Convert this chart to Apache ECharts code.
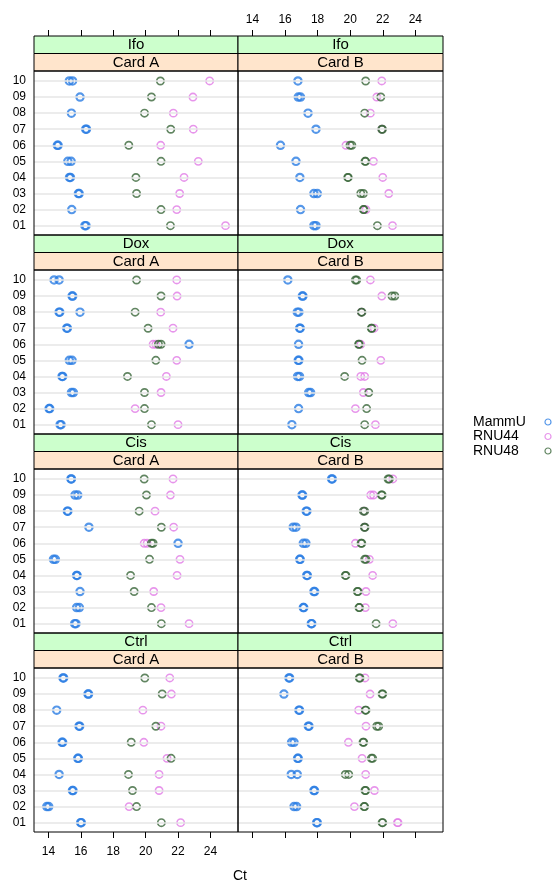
<!DOCTYPE html>
<html><head><meta charset="utf-8">
<script src="https://cdn.jsdelivr.net/npm/echarts@6/dist/echarts.min.js"></script>
<style>html,body{margin:0;padding:0;background:#fff}#c{width:554px;height:883px}</style>
</head><body><div id="c"></div>
<script>
// categories
const samples = ['01','02','03','04','05','06','07','08','09','10'];
const treatments = ['Ifo','Dox','Cis','Ctrl'];
const cards = ['Card A','Card B'];
const genes = ['MammU','RNU44','RNU48'];
const xTicks = [14,16,18,20,22,24];
const axisTitle = 'Ct';

// Ct values, samples 01..10, replicates in inner lists
const ifoA_MammU = [[16.25,16.32],[15.44],[15.85,15.9],[15.3,15.36],[15.2,15.4],[14.55,14.6],[16.3,16.35],[15.42],[15.95],[15.29,15.49]];
const ifoA_RNU44 = [24.93,21.92,22.1,22.37,23.25,20.93,22.94,21.71,22.92,23.95];
const ifoA_RNU48 = [21.53,20.95,19.44,19.4,20.95,18.96,21.55,19.93,20.36,20.91];

const ifoB_MammU = [[17.77,17.9],[16.95],[17.77,17.98],[16.91],[16.67],[15.72],[17.9],[17.41],[16.81,16.95],[16.79]];
const ifoB_RNU44 = [22.6,20.97,22.37,22.0,21.43,19.74,21.95,21.24,21.63,21.94];
const ifoB_RNU48 = [21.67,[20.81,20.85],[20.65,20.81],[19.85,19.88],[20.91,20.95],[19.99,20.1],[21.94,21.98],20.89,21.88,20.95];

const doxA_MammU = [[14.72,14.78],[14.04,14.08],[15.42,15.54],[14.84,14.88],[15.29,15.46],[22.68],[15.13,15.17],[14.66,14.7,15.95],[15.46,15.5],[14.35,14.66]];
const doxA_RNU44 = [22.0,19.35,20.95,21.28,21.92,[20.46,20.63],21.69,20.93,21.94,21.92];
const doxA_RNU48 = [20.36,19.93,19.93,18.88,20.63,[20.79,20.95],20.15,19.35,20.95,19.44];

const doxB_MammU = [[16.42],[16.83],[17.45,17.57],[16.77,16.89],[16.81,16.85],[16.83],[16.9,16.93],[16.75,16.85],[17.06,17.1],[16.17]];
const doxB_RNU44 = [21.55,20.32,20.81,[20.65,20.89],21.88,20.65,21.47,20.69,21.94,21.24];
const doxB_RNU48 = [20.89,21.01,21.14,19.66,20.73,[20.52,20.55],[21.3,21.33],[20.69,20.72],[22.57,22.74],[20.32,20.4]];

const cisA_MammU = [[15.62,15.7],[15.74,15.91],[15.95],[15.74,15.77],[14.31,14.43],[22.0],[16.5],[15.17,15.2],[15.64,15.81],[15.39,15.42]];
const cisA_RNU44 = [22.68,20.95,20.5,21.94,22.12,[19.91,20.09],21.73,20.58,21.53,21.69];
const cisA_RNU48 = [20.97,20.36,19.29,19.07,20.24,[20.36,20.46],20.97,19.6,20.05,19.91];

const cisB_MammU = [[17.61,17.64],[17.12,17.15],[17.77,17.82],[17.33,17.37],[16.9,16.93],[17.12,17.28],[16.5,16.67],[17.3,17.34],[17.04,17.08],[18.86,18.9]];
const cisB_RNU44 = [22.62,20.93,20.97,21.38,21.18,20.32,20.89,20.85,[21.26,21.43],22.62];
const cisB_RNU48 = [21.59,[20.54,20.57],[20.44,20.48],[19.7,19.74],[20.89,20.97],[20.67,20.71],[20.87,20.91],[20.81,20.89],[21.92,21.96],[22.33,22.4]];

const ctrlA_MammU = [[15.99,16.03],[13.9,14.02],[15.48,15.52],[14.66],[15.81,15.85],[14.84,14.88],[15.89,15.93],[14.51],[16.44,16.48],[14.9,14.94]];
const ctrlA_RNU44 = [22.16,18.98,20.83,20.83,21.32,19.89,20.95,19.83,21.59,21.49];
const ctrlA_RNU48 = [20.97,19.44,19.19,18.94,21.57,19.11,20.63,null,21.02,19.95];

const ctrlB_MammU = [[17.94,17.98],[16.55,16.71],[17.77,17.81],[16.38,16.75],[16.77,16.81],[16.4,16.55],[17.43,17.47],[16.85,16.89],[15.93],[16.24,16.28]];
const ctrlB_RNU44 = [[22.9,22.94],20.26,21.49,20.95,20.73,19.89,20.97,20.52,21.22,20.91];
const ctrlB_RNU48 = [[21.96,22.0],[20.85,20.89],[20.91,20.95],[19.7,19.91],[21.3,21.38],[20.79,20.83],[21.63,21.75],[20.93,20.97],[21.96,22.0],[20.56,20.6]];

const panels = [
  [[ifoA_MammU, ifoA_RNU44, ifoA_RNU48],[ifoB_MammU, ifoB_RNU44, ifoB_RNU48]],
  [[doxA_MammU, doxA_RNU44, doxA_RNU48],[doxB_MammU, doxB_RNU44, doxB_RNU48]],
  [[cisA_MammU, cisA_RNU44, cisA_RNU48],[cisB_MammU, cisB_RNU44, cisB_RNU48]],
  [[ctrlA_MammU, ctrlA_RNU44, ctrlA_RNU48],[ctrlB_MammU, ctrlB_RNU44, ctrlB_RNU48]]
];

const colors = ['#2b7de3','#e17ae6','#3a663a'];
const strokeW = [2.2, 1.6, 1.7];
const FONT = '"Liberation Sans", Arial, sans-serif';
const colLeft = [34, 238], colW = [204, 205];
const top0 = 36, pitch = 199, stripH = 17.5, panelH = 164;
const xMin = 13.11, xMax = 25.7, yMin = 0.42, yMax = 10.62;

const grids = [], xAxes = [], yAxes = [], series = [], graphics = [];
const yVals = samples.map((s, i) => i + 1);

for (let b = 0; b < 4; b++) {
  for (let c = 0; c < 2; c++) {
    const g = grids.length;
    const top = top0 + b * pitch;
    const x = colLeft[c], w = colW[c];
    grids.push({left: x, top: top + 2 * stripH, width: w, height: panelH, show: false});
    const showAx = (b === 0 || b === 3);
    xAxes.push({gridIndex: g, type: 'value', min: xMin, max: xMax,
      position: b === 0 ? 'top' : 'bottom', offset: b === 0 ? 2 * stripH : 0, show: showAx,
      axisLine: {show: false}, splitLine: {show: false},
      axisTick: {show: true, length: 6, customValues: xTicks, lineStyle: {color: '#000', width: 1}},
      axisLabel: {show: (b === 0 && c === 1) || (b === 3 && c === 0), customValues: xTicks,
        fontSize: 12, color: '#000', margin: b === 0 ? 10 : 14, fontFamily: FONT}});
    yAxes.push({gridIndex: g, type: 'value', min: yMin, max: yMax,
      axisLine: {show: false}, axisTick: {show: false}, splitLine: {show: false},
      axisLabel: {show: c === 0, customValues: yVals, formatter: v => samples[Math.round(v) - 1],
        fontSize: 12, color: '#000', margin: 8, fontFamily: FONT}});
    // reference lines
    series.push({type: 'scatter', xAxisIndex: g, yAxisIndex: g, data: [], z: 1, silent: true,
      markLine: {silent: true, symbol: 'none', label: {show: false},
        lineStyle: {color: '#e6e6e6', width: 1.5, type: 'solid'},
        data: yVals.map(v => ({yAxis: v}))}});
    panels[b][c].forEach((arr, gi) => {
      const pts = [];
      arr.forEach((v, i) => {
        if (v == null) return;
        (Array.isArray(v) ? v : [v]).forEach(r => pts.push([r, i + 1]));
      });
      series.push({type: 'scatter', name: genes[gi], xAxisIndex: g, yAxisIndex: g, z: 3,
        symbol: 'circle', symbolSize: 7.3, data: pts,
        itemStyle: {color: 'rgba(0,0,0,0)', borderColor: colors[gi], borderWidth: strokeW[gi]},
        emphasis: {disabled: true}});
    });
    // panel frame
    graphics.push({type: 'rect', z: 12, shape: {x: x, y: top + 2 * stripH, width: w, height: panelH},
      style: {fill: null, stroke: '#000', lineWidth: 1}});
    // strips
    [[treatments[b], '#ccffcc'], [cards[c], '#ffe5cc']].forEach(([t, f], k) => {
      const y = top + k * stripH;
      graphics.push({type: 'rect', shape: {x: x, y: y, width: w, height: stripH},
        style: {fill: f, stroke: '#000', lineWidth: 1}, z: 10});
      graphics.push({type: 'text', x: x + w / 2, y: y + stripH / 2 + 0.5, z: 11,
        style: {text: t, align: 'center', verticalAlign: 'middle', textAlign: 'center', textVerticalAlign: 'middle',
          font: '15px ' + FONT, fill: '#000'}});
    });
  }
}
graphics.push({type: 'text', x: 240, y: 876, style: {text: axisTitle, align: 'center', verticalAlign: 'middle',
  textAlign: 'center', textVerticalAlign: 'middle', font: '14px ' + FONT, fill: '#000'}});

const chart = echarts.init(document.getElementById('c'), null, {renderer: 'canvas'});
chart.setOption({
  animation: false,
  textStyle: {fontFamily: FONT},
  grid: grids, xAxis: xAxes, yAxis: yAxes, series: series, graphic: graphics,
  legend: {orient: 'vertical', left: 468, top: 410, align: 'right', itemGap: 0.5,
    itemWidth: 6, itemHeight: 6, selectedMode: false,
    formatter: n => '{t|' + n + '}',
    textStyle: {fontSize: 14, color: '#000', lineHeight: 14, fontFamily: FONT,
      rich: {t: {width: 67, align: 'left', fontSize: 14, lineHeight: 14, fontFamily: FONT, color: '#000'}}},
    data: genes.map((n, i) => ({name: n, icon: 'circle',
      itemStyle: {color: 'rgba(0,0,0,0)', borderColor: colors[i], borderWidth: 1.2}}))}
});
</script></body></html>
